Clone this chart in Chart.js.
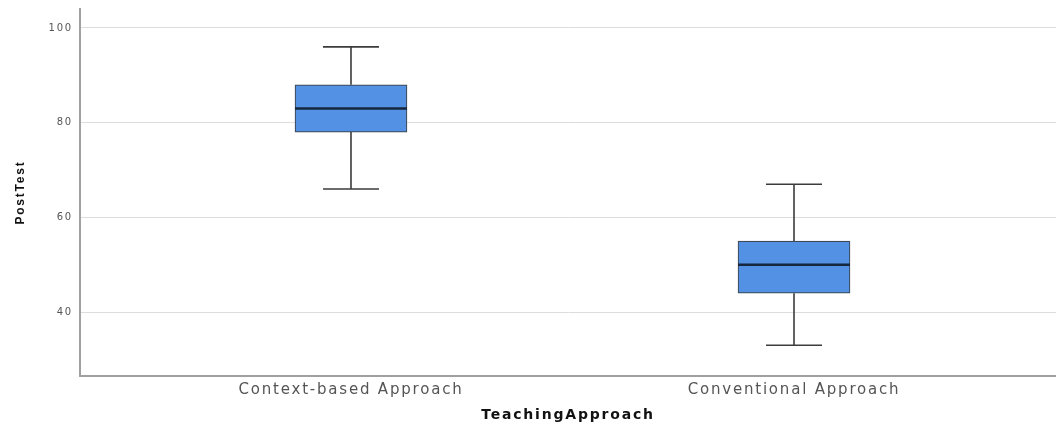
<!DOCTYPE html>
<html>
<head>
<meta charset="utf-8">
<script src="https://cdn.jsdelivr.net/npm/chart.js@4/dist/chart.umd.min.js"></script>
<style>
  html, body { margin: 0; padding: 0; background: #ffffff; }
  #wrap { width: 1056px; height: 430px; position: relative; }
</style>
</head>
<body>
<div id="wrap"><canvas id="chart"></canvas></div>
<script>
// PostTest scores by teaching approach (five-number summaries)
const categories = ['Context-based Approach', 'Conventional Approach'];
const whiskerLow  = [66, 33];
const quartile1   = [78, 44];
const medians     = [83, 50];
const quartile3   = [88, 55];
const whiskerHigh = [96, 67];
const yTickValues = [40, 60, 80, 100];

// Wide text tracking for all labels
const textTracking = {
  id: 'textTracking',
  beforeLayout(chart) { chart.ctx.letterSpacing = '1.8px'; },
  beforeDraw(chart) { chart.ctx.letterSpacing = '1.8px'; }
};

// Whiskers, caps and median lines, positioned through the chart's scales
const boxExtras = {
  id: 'boxExtras',
  afterDatasetsDraw(chart) {
    const { ctx, scales: { x, y } } = chart;
    const meta = chart.getDatasetMeta(0);
    ctx.save();
    categories.forEach((_, i) => {
      const bar = meta.data[i];
      const cx = x.getPixelForValue(i);
      const half = bar.width / 2;
      const capHalf = half / 2;
      const yHi = y.getPixelForValue(whiskerHigh[i]);
      const yQ3 = y.getPixelForValue(quartile3[i]);
      const yQ1 = y.getPixelForValue(quartile1[i]);
      const yLo = y.getPixelForValue(whiskerLow[i]);
      const yMed = y.getPixelForValue(medians[i]);

      ctx.strokeStyle = '#3c3c3c';
      ctx.lineWidth = 1.6;
      ctx.beginPath();
      ctx.moveTo(cx, yHi); ctx.lineTo(cx, yQ3);
      ctx.moveTo(cx, yQ1); ctx.lineTo(cx, yLo);
      ctx.moveTo(cx - capHalf, yHi); ctx.lineTo(cx + capHalf, yHi);
      ctx.moveTo(cx - capHalf, yLo); ctx.lineTo(cx + capHalf, yLo);
      ctx.stroke();

      ctx.strokeStyle = '#17273d';
      ctx.lineWidth = 2.4;
      ctx.beginPath();
      ctx.moveTo(cx - half, yMed); ctx.lineTo(cx + half, yMed);
      ctx.stroke();
    });
    ctx.restore();
  }
};

new Chart(document.getElementById('chart'), {
  type: 'bar',
  data: {
    datasets: [{
      data: categories.map((c, i) => ({ x: i, y: [quartile1[i], quartile3[i]] })),
      backgroundColor: '#5291e3',
      borderColor: '#3f4a58',
      borderWidth: 1.2,
      borderSkipped: false,
      barThickness: 112
    }]
  },
  options: {
    responsive: true,
    maintainAspectRatio: false,
    animation: false,
    layout: { padding: { top: 9, right: 0, left: 0, bottom: 0 } },
    plugins: { legend: { display: false }, tooltip: { enabled: false } },
    scales: {
      x: {
        type: 'linear',
        offset: false,
        min: -0.6117,
        max: 1.5914,
        afterBuildTicks: (s) => { s.ticks = categories.map((_, i) => ({ value: i })); },
        afterFit: (s) => { s.height = 54; s.paddingLeft = 0; s.paddingRight = 0; },
        grid: { display: false, drawTicks: false },
        border: { display: true, color: '#a0a0a0', width: 2 },
        ticks: {
          autoSkip: false,
          maxRotation: 0,
          padding: 5,
          color: '#555555',
          font: { family: 'DejaVu Sans', size: 15 },
          callback: (v) => categories[v]
        },
        title: {
          display: true,
          text: 'TeachingApproach',
          color: '#111111',
          font: { family: 'DejaVu Sans', size: 14, weight: 'bold' },
          padding: { top: 0, bottom: 6 }
        }
      },
      y: {
        min: 26.5,
        max: 104,
        afterBuildTicks: (s) => { s.ticks = yTickValues.map(v => ({ value: v })); },
        afterFit: (s) => { s.width = 80; s.paddingTop = 0; s.paddingBottom = 0; },
        grid: { color: '#dddddd', lineWidth: 1, drawTicks: false },
        border: { display: true, color: '#a0a0a0', width: 2 },
        ticks: {
          padding: 7,
          color: '#555555',
          font: { family: 'DejaVu Sans', size: 10 }
        },
        title: {
          display: true,
          text: 'PostTest',
          color: '#111111',
          font: { family: 'Liberation Sans', size: 12, weight: 'bold' },
          padding: { top: 13, bottom: 0 }
        }
      }
    }
  },
  plugins: [textTracking, boxExtras]
});
</script>
</body>
</html>
